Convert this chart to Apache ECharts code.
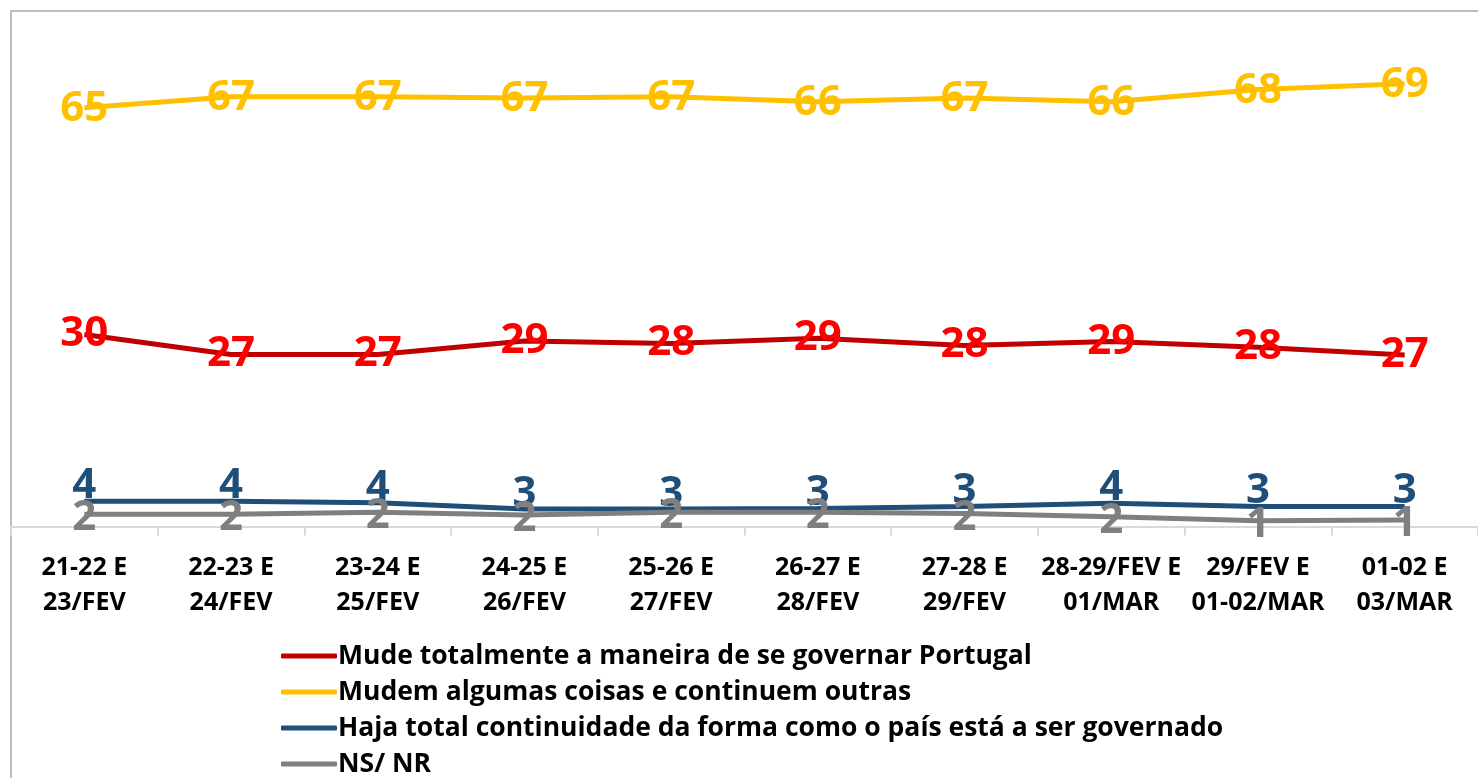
<!DOCTYPE html>
<html>
<head>
<meta charset="utf-8">
<script src="https://cdn.jsdelivr.net/npm/echarts@6/dist/echarts.min.js"></script>
<style>
  html, body { margin: 0; padding: 0; background: #fff; }
  #main { width: 1478px; height: 778px; }
</style>
</head>
<body>
<div id="main"></div>
<script>
// periodos da sondagem
const periods = [
  '21-22 E\n23/FEV', '22-23 E\n24/FEV', '23-24 E\n25/FEV', '24-25 E\n26/FEV',
  '25-26 E\n27/FEV', '26-27 E\n28/FEV', '27-28 E\n29/FEV', '28-29/FEV E\n01/MAR',
  '29/FEV E\n01-02/MAR', '01-02 E\n03/MAR'
];
const seriesNames = [
  'Mude totalmente a maneira de se governar Portugal',
  'Mudem algumas coisas e continuem outras',
  'Haja total continuidade da forma como o país está a ser governado',
  'NS/ NR'
];
const mudeTotal = [29.8, 26.7, 26.7, 28.8, 28.4, 29.2, 28.1, 28.7, 27.8, 26.6];
const mudemAlgumas = [65.0, 66.7, 66.7, 66.5, 66.7, 65.9, 66.5, 65.9, 67.8, 68.7];
const continuidade = [3.9, 3.9, 3.7, 2.7, 2.7, 2.8, 3.1, 3.6, 3.1, 3.1];
const nsnr = [1.9, 1.9, 2.2, 1.8, 2.2, 2.2, 2.0, 1.5, 0.9, 1.0];

const lineColors = ['#C00000', '#FFC000', '#1F4E79', '#7F7F7F'];
const labelColors = ['#FF0000', '#FFC000', '#1F4E79', '#7F7F7F'];
const labelOffsets = [[0, 0], [0, 1], [0, -15], [0, 4]];
const allData = [mudeTotal, mudemAlgumas, continuidade, nsnr];

const chart = echarts.init(document.getElementById('main'));

const option = {
  animation: false,
  textStyle: { fontFamily: 'Open Sans' },
  graphic: [{
    type: 'rect',
    shape: { x: 11, y: 11, width: 1600, height: 900 },
    style: { fill: 'none', stroke: '#BFBFBF', lineWidth: 2 },
    silent: true
  }],
  grid: { left: 11, right: -18, top: 11, bottom: 251.5 },
  legend: {
    orient: 'vertical',
    left: 276,
    top: 636,
    height: 200,
    itemWidth: 56,
    itemHeight: 5,
    itemGap: 6,
    icon: 'roundRect',
    data: seriesNames,
    textStyle: { fontFamily: 'Open Sans', fontWeight: 'bold', fontSize: 26.5, color: '#000', padding: [0, 0, 0, -4], lineHeight: 30 }
  },
  xAxis: {
    type: 'category',
    data: periods,
    boundaryGap: true,
    axisLine: { lineStyle: { color: '#D9D9D9', width: 2 } },
    axisTick: { show: true, length: 9, lineStyle: { color: '#D9D9D9', width: 2 } },
    axisLabel: {
      interval: 0, margin: 24,
      fontFamily: 'Open Sans', fontWeight: 'bold', fontSize: 25, color: '#000', lineHeight: 35
    }
  },
  yAxis: {
    type: 'value', min: 0, max: 80,
    show: false, splitLine: { show: false }
  },
  series: seriesNames.map((name, i) => ({
    name: name,
    type: 'line',
    data: allData[i],
    symbol: 'circle',
    symbolSize: 0,
    lineStyle: { color: lineColors[i], width: 5 },
    itemStyle: { color: lineColors[i] },
    label: {
      show: true,
      position: 'inside',
      offset: labelOffsets[i],
      formatter: p => Math.round(p.value),
      color: labelColors[i],
      fontFamily: 'Open Sans',
      fontWeight: 'bold',
      fontSize: 42
    }
  }))
};
chart.setOption(option);
</script>
</body>
</html>
